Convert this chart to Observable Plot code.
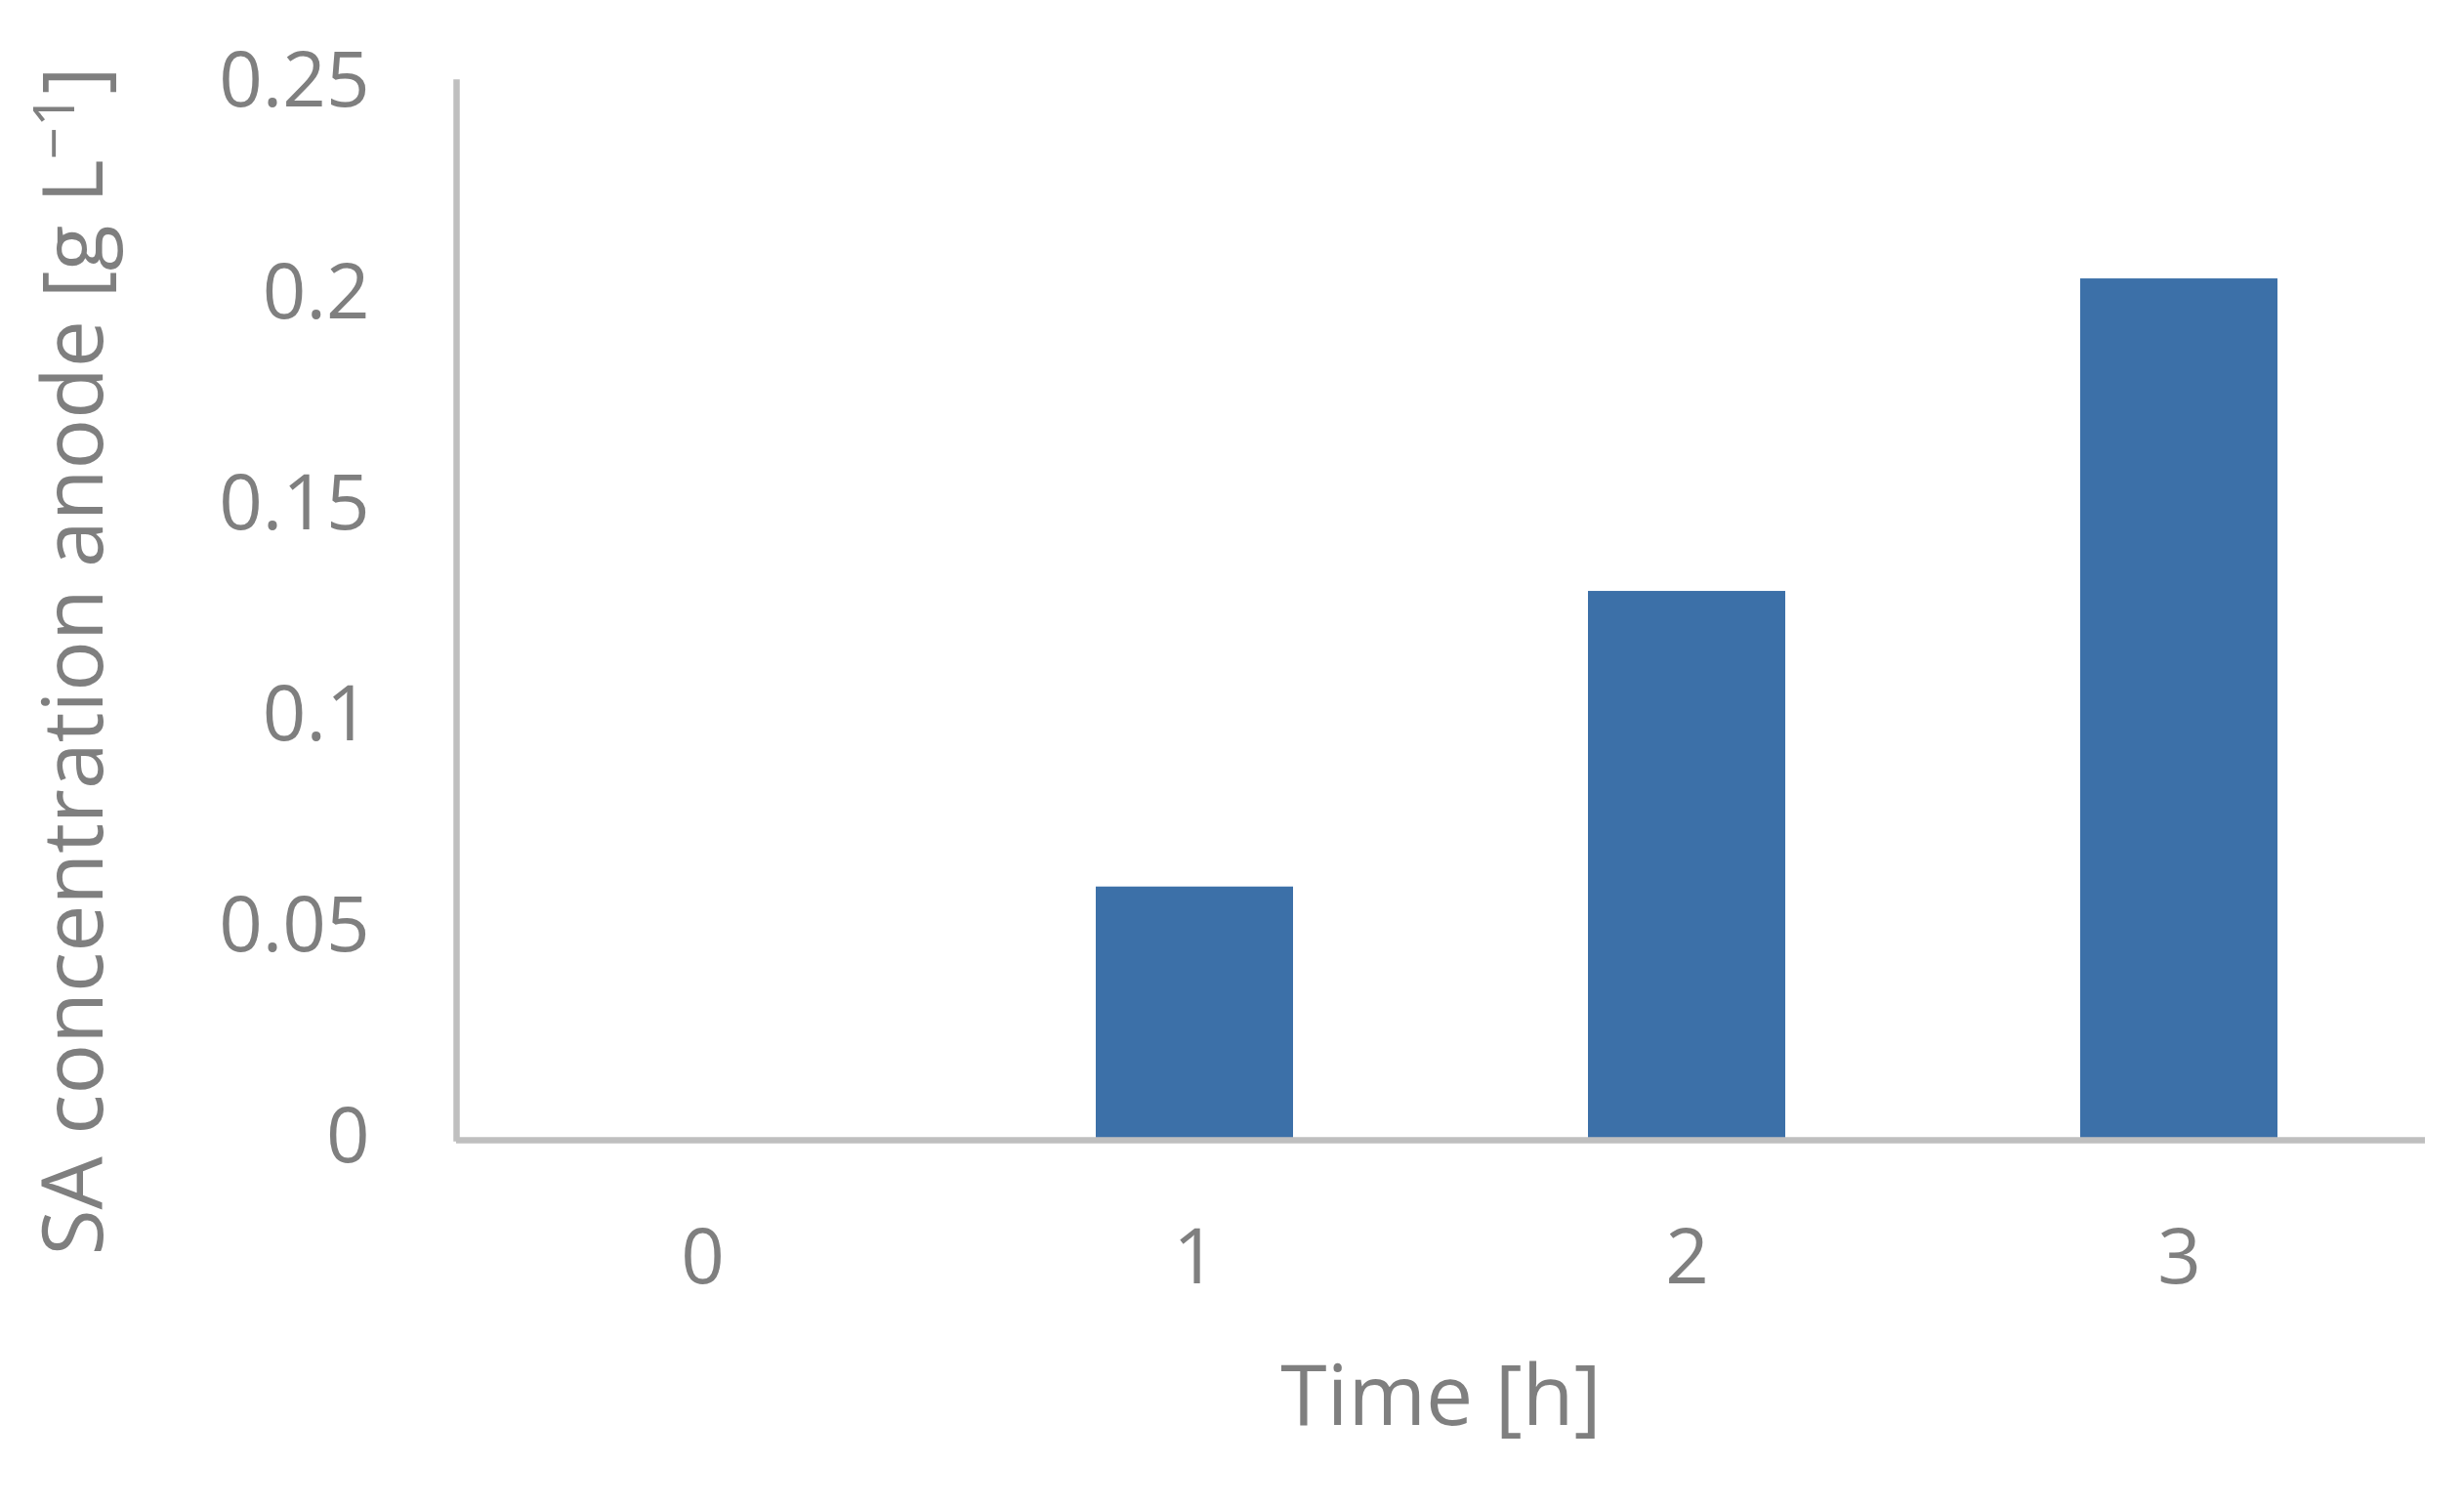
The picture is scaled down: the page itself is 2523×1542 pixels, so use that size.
<!DOCTYPE html>
<html>
<head>
<meta charset="utf-8">
<script src="https://cdn.jsdelivr.net/npm/d3@7"></script>
<script src="https://cdn.jsdelivr.net/npm/@observablehq/plot@0.6"></script>
<style>
  html, body { margin: 0; padding: 0; background: #ffffff; }
  #chart svg { display: block; }
</style>
</head>
<body>
<div id="chart"></div>
<script>
// ---- data ----
const times = ["0", "1", "2", "3"];
const concentrations = [0, 0.0595, 0.1295, 0.2035];
const yTicks = [0, 0.05, 0.1, 0.15, 0.2, 0.25];
const yTickLabels = ["0", "0.05", "0.1", "0.15", "0.2", "0.25"];
const xTitle = "Time [h]";
const yTitleMain = "SA concentration anode [g L";
const yTitleSup = "−1";
const yTitleEnd = "]";

const rows = times.map((t, i) => ({time: t, value: concentrations[i]}));
const yTitleFull = yTitleMain + yTitleSup + yTitleEnd;

const textColor = "#7f7f7f";
const axisColor = "#bfbfbf";
const barColor = "#3c70a8";
const font = "'Open Sans', sans-serif";

const chart = Plot.plot({
  width: 2523,
  height: 1542,
  marginLeft: 467,
  marginRight: 40,
  marginTop: 84,
  marginBottom: 377,
  style: {fontFamily: font, background: "#ffffff"},
  x: {type: "band", domain: times, paddingInner: 0.6, paddingOuter: 0.3, label: null},
  y: {domain: [0, 0.25], label: null},
  marks: [
    Plot.barY(rows, {x: "time", y: "value", fill: barColor}),
    Plot.frame({anchor: "left", stroke: axisColor, strokeWidth: 6.5}),
    Plot.ruleY([0], {stroke: axisColor, strokeWidth: 6.5, dy: 2}),
    Plot.axisY({
      ticks: yTicks,
      tickSize: 0,
      tickPadding: 89,
      tickFormat: (d) => yTickLabels[yTicks.indexOf(d)],
      fontSize: 78,
      color: textColor,
      label: null
    }),
    Plot.axisX({
      tickSize: 0,
      tickPadding: 93,
      fontSize: 78,
      color: textColor,
      label: null
    }),
    Plot.text([xTitle], {
      frameAnchor: "bottom",
      lineAnchor: "bottom",
      textAnchor: "middle",
      dy: 293,
      fontSize: 86,
      fill: textColor,
      text: (d) => d
    }),
    Plot.text([yTitleFull], {
      frameAnchor: "left",
      textAnchor: "middle",
      lineAnchor: "middle",
      rotate: -90,
      dx: -390,
      dy: 52,
      fontSize: 86,
      fill: textColor,
      text: (d) => d
    })
  ]
});

// put the exponent of the y title in a superscript tspan
d3.select(chart).selectAll("text").each(function () {
  if (this.textContent === yTitleFull) {
    const t = d3.select(this);
    t.text(null);
    t.append("tspan").text(yTitleMain);
    t.append("tspan").attr("font-size", "0.68em").attr("dy", "-0.5em").text(yTitleSup);
    t.append("tspan").attr("dy", "0.337em").text(yTitleEnd);
  }
});

document.getElementById("chart").appendChild(chart);
</script>
</body>
</html>
